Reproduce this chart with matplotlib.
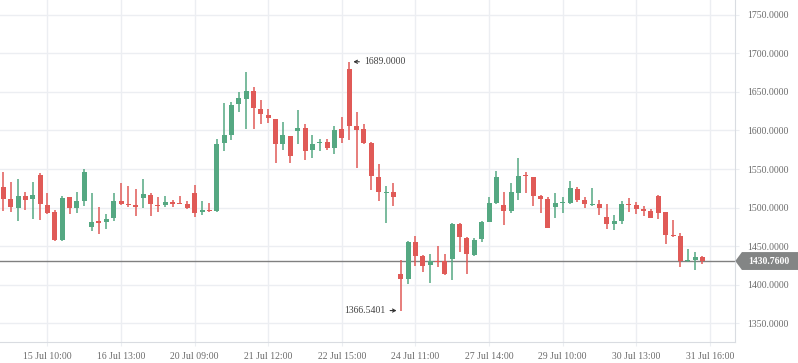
import numpy as np
import matplotlib.pyplot as plt
from matplotlib.patches import Polygon

# OHLC per candle
opens = [1526.8, 1511.0, 1499.6, 1514.9, 1511.0, 1542.5, 1503.1, 1493.9, 1457.5, 1513.6,
         1499.1, 1508.3, 1475.4, 1482.5, 1480.7, 1486.4, 1508.3, 1504.8, 1503.1, 1512.7,
         1516.2, 1503.5, 1503.5, 1507.0, 1505.7, 1504.4, 1518.9, 1494.3, 1496.5, 1495.2,
         1584.2, 1594.6, 1633.9, 1640.4, 1651.7, 1628.2, 1620.4, 1615.1, 1582.9, 1592.9,
         1599.8, 1603.3, 1575.0, 1584.2, 1585.0, 1577.6, 1602.0, 1679.2, 1606.0, 1602.0,
         1583.7, 1539.3, 1519.3, 1519.7, 1413.6, 1407.5, 1455.7, 1437.3, 1425.9, 1430.7,
         1430.7, 1433.8, 1478.1, 1460.5, 1439.0, 1458.8, 1481.1, 1505.7, 1503.5, 1495.6,
         1519.3, 1541.2, 1539.9, 1514.9, 1511.0, 1500.9, 1506.1, 1506.1, 1524.1, 1509.6,
         1503.5, 1504.4, 1487.3, 1478.5, 1482.0, 1504.4, 1503.1, 1497.8, 1495.2, 1514.9,
         1493.9, 1464.9, 1463.6, 1430.7, 1432.0, 1436.0]
highs = [1545.6, 1533.3, 1537.3, 1519.7, 1533.3, 1545.2, 1518.9, 1496.5, 1514.9, 1513.6,
         1520.2, 1550.4, 1518.9, 1500.4, 1491.2, 1518.9, 1532.0, 1528.0, 1524.1, 1537.3,
         1518.9, 1513.6, 1514.9, 1509.6, 1514.9, 1508.3, 1529.4, 1508.3, 1505.7, 1589.0,
         1636.0, 1637.0, 1650.4, 1675.3, 1655.7, 1640.0, 1628.2, 1615.1, 1611.2, 1592.9,
         1626.9, 1608.6, 1594.2, 1589.0, 1589.0, 1606.0, 1617.7, 1689.0, 1624.3, 1608.6,
         1585.0, 1556.3, 1527.5, 1531.4, 1432.0, 1457.0, 1463.6, 1438.6, 1439.9, 1450.4,
         1439.9, 1479.4, 1479.4, 1462.3, 1460.5, 1482.9, 1513.2, 1547.8, 1520.2, 1532.0,
         1564.9, 1546.5, 1539.9, 1516.2, 1513.6, 1518.9, 1513.6, 1534.6, 1526.8, 1513.6,
         1525.4, 1509.6, 1504.4, 1489.9, 1508.3, 1512.3, 1507.0, 1501.8, 1497.8, 1516.2,
         1493.9, 1483.3, 1467.5, 1446.5, 1442.5, 1437.3]
lows = [1495.2, 1493.9, 1482.5, 1496.5, 1485.1, 1483.3, 1492.1, 1457.0, 1456.1, 1491.7,
        1493.0, 1502.2, 1469.3, 1465.4, 1472.8, 1482.5, 1503.1, 1500.9, 1489.0, 1499.6,
        1489.0, 1493.9, 1500.9, 1500.9, 1504.8, 1498.2, 1487.7, 1490.4, 1493.9, 1493.9,
        1573.7, 1587.7, 1624.3, 1602.0, 1602.0, 1607.7, 1609.0, 1558.0, 1574.6, 1558.0,
        1582.9, 1561.9, 1564.5, 1573.7, 1575.0, 1569.8, 1584.2, 1588.1, 1551.5, 1582.9,
        1522.7, 1508.3, 1479.5, 1501.8, 1366.5401, 1400.9, 1424.6, 1416.7, 1402.2, 1423.2,
        1412.7, 1406.0, 1443.0, 1414.0, 1437.7, 1454.8, 1480.7, 1504.8, 1477.2, 1493.0,
        1509.6, 1518.9, 1502.2, 1493.0, 1473.2, 1486.4, 1493.0, 1504.8, 1507.0, 1499.1,
        1501.8, 1490.4, 1471.9, 1470.6, 1478.5, 1493.9, 1491.2, 1488.6, 1486.0, 1484.6,
        1453.1, 1462.3, 1422.8, 1429.4, 1418.9, 1426.8]
closes = [1511.0, 1500.9, 1514.9, 1509.6, 1516.2, 1504.8, 1493.0, 1457.5, 1512.3, 1499.1,
          1508.3, 1546.5, 1480.7, 1479.4, 1484.6, 1508.3, 1504.4, 1503.5, 1500.9, 1517.5,
          1504.8, 1502.2, 1507.0, 1504.8, 1504.8, 1499.6, 1493.0, 1496.9, 1495.6, 1582.4,
          1594.2, 1633.4, 1642.6, 1651.7, 1628.6, 1620.8, 1615.6, 1582.9, 1594.2, 1567.2,
          1602.9, 1573.7, 1582.4, 1585.0, 1577.6, 1600.7, 1590.7, 1605.1, 1601.2, 1584.2,
          1541.0, 1520.1, 1520.1, 1513.6, 1407.5, 1455.7, 1437.7, 1424.6, 1430.7, 1429.8,
          1414.0, 1478.1, 1461.4, 1440.4, 1458.3, 1480.7, 1505.7, 1539.9, 1495.6, 1520.2,
          1541.2, 1540.4, 1515.4, 1511.0, 1474.1, 1505.7, 1507.0, 1525.4, 1509.6, 1504.8,
          1504.4, 1499.1, 1478.5, 1482.0, 1504.4, 1503.5, 1497.8, 1495.6, 1486.0, 1492.5,
          1464.9, 1463.6, 1430.7, 1432.0, 1436.0, 1430.76]

tick_idx = [6, 16, 26, 36, 46, 56, 66, 76, 86, 96]
tick_labels = ['15 Jul 10:00', '16 Jul 13:00', '20 Jul 09:00', '21 Jul 12:00',
               '22 Jul 15:00', '24 Jul 11:00', '27 Jul 14:00', '29 Jul 10:00',
               '30 Jul 13:00', '31 Jul 16:00']
last_price = 1430.76

green = '#55a882'
red = '#e05a57'
grid_c = '#eceef2'
txt_c = '#6b6b6b'
fam = ['Liberation Serif', 'DejaVu Sans']

o = np.array(opens); h = np.array(highs); l = np.array(lows); c = np.array(closes)
x = np.arange(len(o))
up = c >= o
cols = np.where(up, green, red)

fig = plt.figure(figsize=(7.98, 3.63), dpi=100)
ax = fig.add_axes([0, 21 / 363, 735.3 / 798, 342 / 363])

ax.vlines(x, l, h, colors=cols, linewidth=1.1, zorder=3)
body = np.maximum(np.abs(c - o), 1.4)
ax.bar(x, body, bottom=np.minimum(o, c), width=0.68, color=cols, linewidth=0, zorder=4)

ax.axhline(last_price, color='#808080', linewidth=1, zorder=2)

ax.set_xlim(-0.45, 99.46)
ax.set_ylim(1325.8, 1769.05)
ax.set_yticks(np.arange(1350, 1751, 50))
ax.set_yticklabels(['%.4f' % v for v in np.arange(1350, 1751, 50)])
ax.set_xticks(tick_idx)
ax.set_xticklabels(tick_labels)
ax.yaxis.tick_right()
ax.grid(True, color=grid_c, linewidth=1, zorder=0)
ax.set_axisbelow(True)
for s in ['top', 'left']:
    ax.spines[s].set_visible(False)
for s in ['right', 'bottom']:
    ax.spines[s].set_color('#d9dce1')
ax.tick_params(axis='both', colors=grid_c, length=3, labelcolor=txt_c, labelsize=7)
ax.tick_params(axis='y', pad=5.2)
ax.tick_params(axis='x', pad=4.5)
for t in ax.get_xticklabels() + ax.get_yticklabels():
    t.set_family(fam)

# high / low annotations
hi = int(np.argmax(h)); lo = int(np.argmin(l))
arr = dict(arrowstyle='->,head_length=0.3,head_width=0.16', color='#333333',
           lw=0.8, shrinkA=1.5, shrinkB=3)
ax.annotate('%.4f' % h[hi], xy=(hi, h[hi]), xytext=(15, 0), textcoords='offset pixels',
            ha='left', va='center', fontsize=7, color='#444444', family=fam,
            arrowprops=arr, zorder=5)
ax.annotate('%.4f' % l[lo], xy=(lo, l[lo]), xytext=(-15.5, 0), textcoords='offset pixels',
            ha='right', va='center', fontsize=7, color='#444444', family=fam,
            arrowprops=arr, zorder=5)

# last price tag
tr = ax.get_yaxis_transform()
dy = 11.6
tag = Polygon([[1.0, last_price], [1.009, last_price + dy], [1.087, last_price + dy],
               [1.087, last_price - dy], [1.009, last_price - dy]],
              closed=True, transform=tr, clip_on=False, facecolor='#838585',
              edgecolor='none', zorder=6)
ax.add_patch(tag)
ax.text(1.046, last_price, '%.4f' % last_price, transform=tr, ha='center', va='center',
        fontsize=7, color='white', family=fam, fontweight='bold', zorder=7)

fig.savefig('out.png', dpi=100)
